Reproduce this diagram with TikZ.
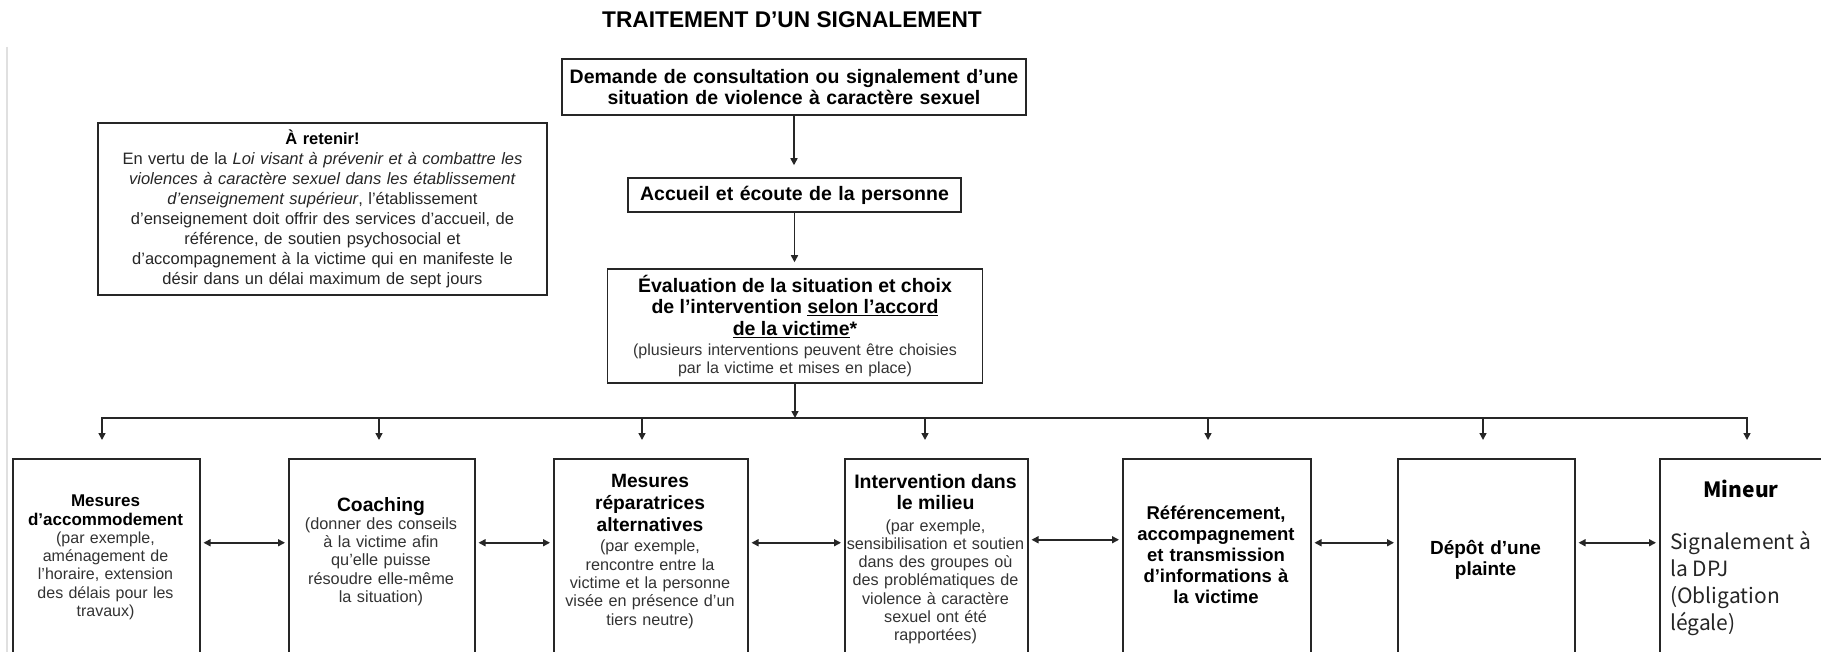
\documentclass[tikz,border=0pt]{standalone}
\usepackage{fontspec}
\setmainfont{Liberation Sans}
\newfontfamily\jpfont{Noto Sans CJK JP}
\usetikzlibrary{arrows.meta}
\newcommand{\fsz}[2]{\fontsize{#1pt}{#2pt}\selectfont}
\begin{document}
\begin{tikzpicture}[x=1pt,y=-1pt,
  box/.style={draw=black!85, line width=1.5pt, inner sep=0pt},
  txt/.style={inner sep=0pt, align=center},
  reg/.style={color=black!80},
  conn/.style={draw=black!85, line width=1.5pt},
  arr/.style={conn, -{Triangle[length=7pt,width=7pt]}},
  darr/.style={conn, {Triangle[length=7pt,width=7pt]}-{Triangle[length=7pt,width=7pt]}, shorten <=3pt, shorten >=3pt},
  pageline/.style={draw=black!12, line width=2pt}
]
\clip (0,0) rectangle (1821,652);
\fill[white] (0,0) rectangle (1821,652);
\draw[pageline] (7,47) -- (7,660);

% title
\node[txt, font=\bfseries\fsz{22.7}{25}] (title) at (792,20) {TRAITEMENT D’UN SIGNALEMENT};

% top chain
\node[box, txt, minimum width=464pt, minimum height=56pt, text width=460pt,
      font=\bfseries\fsz{19.5}{21}] (dem) at (794,87)
  {Demande de consultation ou signalement d’une\\situation de violence à caractère sexuel};
\node[box, txt, minimum width=333pt, minimum height=34pt, text width=330pt,
      font=\bfseries\fsz{19.5}{21}] (acc) at (794.5,195)
  {Accueil et écoute de la personne};
\node[box, txt, minimum width=375pt, minimum height=114pt, text width=371pt,
      font=\fsz{16}{18}] (eval) at (795,326)
  {{\bfseries\fsz{19.5}{18}Évaluation de la situation et choix\\[3.5pt]
   de l’intervention \underline{selon l’accord}\\[3.5pt]
   \underline{de la victime}*}\\[2pt]
   {\color{black!80}(plusieurs interventions peuvent être choisies\\
   par la victime et mises en place)}};

% note box
\node[box, txt, minimum width=449pt, minimum height=172pt, text width=445pt,
      font=\fsz{16.5}{20}] (note) at (322.5,209)
  {{\bfseries À retenir!}\\
   {\color{black!85}En vertu de la \textit{Loi visant à prévenir et à combattre les}\\
   \textit{violences à caractère sexuel dans les établissement}\\
   \textit{d’enseignement supérieur}, l’établissement\\
   d’enseignement doit offrir des services d’accueil, de\\
   référence, de soutien psychosocial et\\
   d’accompagnement à la victime qui en manifeste le\\
   désir dans un délai maximum de sept jours}};

% bottom boxes
\node[box, anchor=north west, minimum width=187pt, minimum height=200pt] (b1) at (12,458) {};
\node[box, anchor=north west, minimum width=186pt, minimum height=200pt] (b2) at (288,458) {};
\node[box, anchor=north west, minimum width=194pt, minimum height=200pt] (b3) at (553,458) {};
\node[box, anchor=north west, minimum width=183pt, minimum height=200pt] (b4) at (844,458) {};
\node[box, anchor=north west, minimum width=188pt, minimum height=200pt] (b5) at (1122,458) {};
\node[box, anchor=north west, minimum width=177pt, minimum height=200pt] (b6) at (1397,458) {};
\node[box, anchor=north west, minimum width=200pt, minimum height=200pt] (b7) at (1659,458) {};

\node[txt, text width=185pt, font=\fsz{16}{18.3}] (t1) at (105.5,557.5)
  {{\bfseries\fsz{17}{18.3}Mesures\\d’accommodement}\\
   {\color{black!80}(par exemple,\\aménagement de\\l’horaire, extension\\des délais pour les\\travaux)}};
\node[txt, text width=184pt, font=\fsz{16.3}{18.2}] (t2) at (381,551.5)
  {{\bfseries\fsz{19.3}{18.2}Coaching}\\
   {\color{black!80}(donner des conseils\\à la victime afin\\qu’elle puisse\\résoudre elle-même\\la situation)}};
\node[txt, text width=192pt, font=\fsz{16.2}{18.3}] (t3) at (650,551.5)
  {{\bfseries\fsz{19.2}{18.3}Mesures\\[3.7pt]réparatrices\\[3.7pt]alternatives}\\[1.7pt]
   {\color{black!80}(par exemple,\\rencontre entre la\\victime et la personne\\visée en présence d’un\\tiers neutre)}};
\node[txt, text width=183pt, font=\fsz{16.2}{18.2}] (t4) at (935.5,559)
  {{\bfseries\fsz{19.5}{18.2}Intervention dans\\[2.8pt]le milieu}\\[3.8pt]
   {\color{black!80}(par exemple,\\sensibilisation et soutien\\dans des groupes où\\des problématiques de\\violence à caractère\\sexuel ont été\\rapportées)}};
\node[txt, text width=186pt, font=\bfseries\fsz{18.5}{21}] (t5) at (1216,555)
  {Référencement,\\accompagnement\\et transmission\\d'informations à\\la victime};
\node[txt, text width=175pt, font=\bfseries\fsz{19}{21}] (t6) at (1485.5,559.5)
  {Dépôt d'une\\plainte};
\node[txt, font=\jpfont\bfseries\fsz{21}{27}] (t7a) at (1741,489) {Mineur};
\node[inner sep=0pt, anchor=west, align=left, font=\jpfont\fsz{21}{27}, text=black!85] (t7b) at (1670,583.5)
  {Signalement à\\la DPJ\\(Obligation\\légale)};

% connectors
\draw[arr, shorten >=12pt] (dem.south) -- (dem.south |- acc.north);
\draw[arr, shorten >=6pt] (acc.south) -- (acc.south |- eval.north);
\coordinate (j1) at (102,418);
\coordinate (j2) at (379,418);
\coordinate (j3) at (642,418);
\coordinate (j4) at (925,418);
\coordinate (j5) at (1208,418);
\coordinate (j6) at (1483,418);
\coordinate (j7) at (1747,418);
\draw[arr] (eval.south) -- (eval.south |- j1);
\draw[conn, line cap=rect] (j1) -- (j7);
\foreach \i in {1,...,7}{
  \draw[arr, shorten >=18pt] (j\i) -- (j\i |- b\i.north);
}
\draw[darr] ([yshift=16pt]b1.east) -- ([yshift=16pt]b2.west);
\draw[darr] ([yshift=16pt]b2.east) -- ([yshift=16pt]b3.west);
\draw[darr] ([yshift=16pt]b3.east) -- ([yshift=16pt]b4.west);
\draw[darr] ([yshift=19pt]b4.east) -- ([yshift=19pt]b5.west);
\draw[darr] ([yshift=16pt]b5.east) -- ([yshift=16pt]b6.west);
\draw[darr] ([yshift=16pt]b6.east) -- ([yshift=16pt]b7.west);
\end{tikzpicture}
\end{document}
